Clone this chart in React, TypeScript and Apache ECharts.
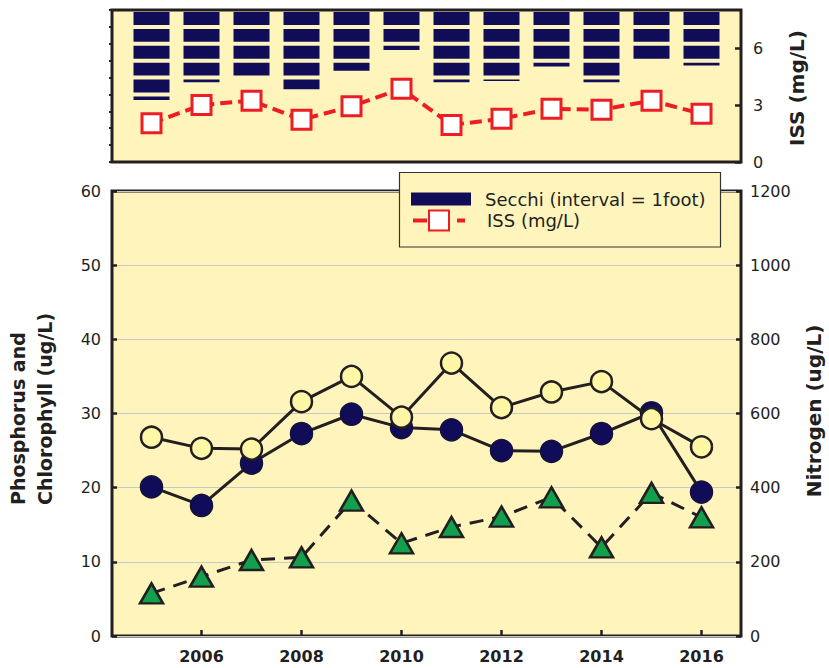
import React, { useEffect, useRef } from "react";
import * as echarts from "echarts";

// ---- data ----
const years = [2005, 2006, 2007, 2008, 2009, 2010, 2011, 2012, 2013, 2014, 2015, 2016];
const secchiFt = [5.44, 4.4, 4.0, 4.81, 3.71, 2.49, 4.4, 4.32, 3.47, 4.4, 3.0, 3.41];
const issMgL = [2.04, 3.0, 3.23, 2.23, 2.93, 3.86, 1.95, 2.28, 2.8, 2.75, 3.23, 2.54];
const phosphorus = [20.1, 17.6, 23.3, 27.3, 29.9, 28.1, 27.8, 25.0, 24.9, 27.3, 30.1, 19.4];
const chlorophyll = [26.8, 25.3, 25.2, 31.6, 35.0, 29.5, 36.8, 30.8, 32.9, 34.3, 29.3, 25.5];
const nitrogen = [115, 160, 205, 212, 365, 250, 294, 322, 374, 239, 386, 320];
const xTickYears = [2006, 2008, 2010, 2012, 2014, 2016];
const issTicks = [0, 3, 6];

const BG = "#fff5bc";
const FRAME = "#231f20";
const NAVY = "#100c58";
const RED = "#ee1c25";
const GREEN = "#12a04c";
const LIGHTY = "#fff7a6";
const TXT = "#231f20";
const FONT = "DejaVu Sans";

export default function App() {
  const ref = useRef<HTMLDivElement>(null);
  useEffect(() => {
    if (!ref.current) return;
    const chart = echarts.init(ref.current, undefined, { renderer: "svg" });
    const tickLabel = { fontFamily: FONT, fontSize: 16, color: TXT, formatter: (v: number) => String(v) };
    const option: any = {
      animation: false,
      grid: [
        { left: 112, right: 88, top: 10, height: 152, show: true, backgroundColor: BG, borderColor: FRAME, borderWidth: 3 },
        { left: 112, right: 88, top: 191, height: 445, show: true, backgroundColor: BG, borderColor: FRAME, borderWidth: 3 },
      ],
      xAxis: [
        {
          gridIndex: 0, type: "value", min: 2004.21, max: 2016.79,
          axisLine: { show: false }, axisTick: { show: false }, axisLabel: { show: false }, splitLine: { show: false },
        },
        {
          gridIndex: 1, type: "value", min: 2004.21, max: 2016.79,
          axisLine: { show: false }, splitLine: { show: false },
          axisTick: { show: true, inside: true, length: 6, customValues: xTickYears, lineStyle: { color: FRAME, width: 2.5 } },
          axisLabel: { ...tickLabel, fontWeight: "bold", margin: 12, customValues: xTickYears },
        },
      ],
      yAxis: [
        {
          gridIndex: 0, type: "value", position: "left", inverse: true, min: 0, max: 9, interval: 1,
          axisLine: { show: false }, splitLine: { show: false }, axisLabel: { show: false },
          axisTick: { show: true, inside: false, length: 3, lineStyle: { color: FRAME, width: 2 } },
        },
        {
          gridIndex: 0, type: "value", position: "right", min: 0, max: 8,
          axisLine: { show: false }, splitLine: { show: false },
          axisTick: { show: true, inside: true, length: 6, customValues: issTicks, lineStyle: { color: FRAME, width: 2.5 } },
          axisLabel: { ...tickLabel, margin: 12, customValues: issTicks },
        },
        {
          gridIndex: 1, type: "value", position: "left", min: 0, max: 60, interval: 10,
          axisLine: { show: false },
          splitLine: { show: true, lineStyle: { color: "#c9c9c9", width: 1.2 } },
          axisTick: { show: true, inside: true, length: 5, lineStyle: { color: FRAME, width: 2.5 } },
          axisLabel: { ...tickLabel, margin: 11 },
        },
        {
          gridIndex: 1, type: "value", position: "right", min: 0, max: 1200, interval: 200,
          axisLine: { show: false }, splitLine: { show: false },
          axisTick: { show: true, inside: true, length: 5, lineStyle: { color: FRAME, width: 2.5 } },
          axisLabel: { ...tickLabel, margin: 9 },
        },
      ],
      legend: [
        {
          z: 20, left: 411, top: 190, padding: 0, orient: "vertical",
          itemWidth: 60, itemHeight: 13, icon: "rect",
          data: ["Secchi (interval = 1foot)"],
          textStyle: { fontFamily: FONT, fontSize: 18, color: TXT, padding: [0, 0, 0, 9] },
        },
        {
          z: 20, left: 411, top: 209.5, padding: 0, orient: "vertical",
          itemWidth: 52, itemHeight: 25,
          lineStyle: { type: [14, 30], width: 4, color: RED },
          data: ["ISS (mg/L)"],
          textStyle: { fontFamily: FONT, fontSize: 18, color: TXT, padding: [0, 0, 0, 17] },
        },
      ],
      graphic: [
        {
          type: "rect", z: 10,
          shape: { x: 399.5, y: 172.5, width: 321, height: 74.5 },
          style: { fill: BG, stroke: "#333", lineWidth: 1.2 },
        },
        {
          type: "text", x: 31, y: 505, rotation: Math.PI / 2,
          style: {
            text: "Phosphorus and\nChlorophyll (ug/L)", fontFamily: FONT, fontWeight: "bold", fontSize: 19,
            fill: TXT, align: "left", verticalAlign: "middle", lineHeight: 27,
          },
        },
        {
          type: "text", x: 814, y: 411, rotation: Math.PI / 2,
          style: {
            text: "Nitrogen (ug/L)", fontFamily: FONT, fontWeight: "bold", fontSize: 20,
            fill: TXT, align: "center", verticalAlign: "middle",
          },
        },
        {
          type: "text", x: 797, y: 88, rotation: Math.PI / 2,
          style: {
            text: "ISS (mg/L)", fontFamily: FONT, fontWeight: "bold", fontSize: 20,
            fill: TXT, align: "center", verticalAlign: "middle",
          },
        },
      ],
      series: [
        {
          name: "Secchi (interval = 1foot)", type: "custom", xAxisIndex: 0, yAxisIndex: 0, z: 2,
          itemStyle: { color: NAVY },
          encode: { x: 0, y: 1 },
          data: years.map((y, i) => [y, secchiFt[i]]),
          renderItem: (params: any, api: any) => {
            const x = api.value(0);
            const d = api.value(1);
            const w = api.size([1, 0])[0] * 0.72;
            const children: any[] = [];
            for (let k = 0; k < d; k++) {
              const p0 = api.coord([x, k]);
              const p1 = api.coord([x, Math.min(k + 1, d)]);
              const top = p0[1] + 2;
              const bot = p1[1] - 2;
              if (bot - top > 0.3) {
                children.push({
                  type: "rect",
                  shape: { x: p0[0] - w / 2, y: top, width: w, height: bot - top },
                  style: { fill: NAVY },
                });
              }
            }
            return { type: "group", children };
          },
        },
        {
          name: "ISS (mg/L)", type: "line", xAxisIndex: 0, yAxisIndex: 1, z: 3,
          data: years.map((y, i) => [y, issMgL[i]]),
          symbol: "rect", symbolSize: 19,
          lineStyle: { color: RED, width: 4, type: [12, 6] },
          itemStyle: { color: "#ffffff", borderColor: RED, borderWidth: 3 },
        },
        {
          name: "Nitrogen", type: "line", xAxisIndex: 1, yAxisIndex: 3, z: 3,
          data: years.map((y, i) => [y, nitrogen[i]]),
          symbol: "triangle", symbolSize: [23, 20],
          lineStyle: { color: FRAME, width: 3, type: [14, 9] },
          itemStyle: { color: GREEN, borderColor: FRAME, borderWidth: 2.5 },
        },
        {
          name: "Phosphorus", type: "line", xAxisIndex: 1, yAxisIndex: 2, z: 4,
          data: years.map((y, i) => [y, phosphorus[i]]),
          symbol: "circle", symbolSize: 22,
          lineStyle: { color: FRAME, width: 3 },
          itemStyle: { color: NAVY, borderColor: "#15123a", borderWidth: 1.5 },
        },
        {
          name: "Chlorophyll", type: "line", xAxisIndex: 1, yAxisIndex: 2, z: 5,
          data: years.map((y, i) => [y, chlorophyll[i]]),
          symbol: "circle", symbolSize: 21,
          lineStyle: { color: FRAME, width: 3 },
          itemStyle: { color: LIGHTY, borderColor: FRAME, borderWidth: 2.5 },
        },
      ],
    };
    chart.setOption(option);
    return () => chart.dispose();
  }, []);
  return (
    <div
      ref={ref}
      style={{ position: "fixed", left: 0, top: 0, width: 829, height: 668, background: "#ffffff" }}
    />
  );
}
